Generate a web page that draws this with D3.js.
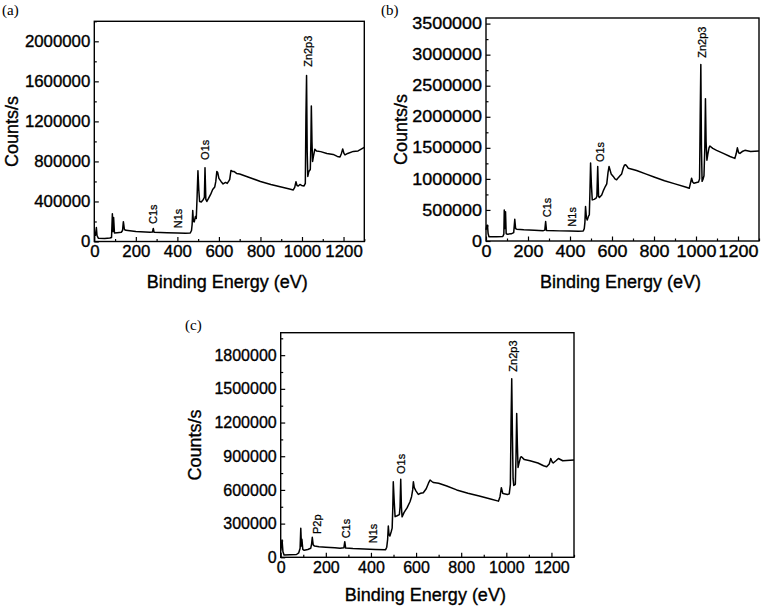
<!DOCTYPE html>
<html><head><meta charset="utf-8">
<script src="https://cdn.jsdelivr.net/npm/d3@7"></script>
<style>
body{margin:0;background:#fff}
svg text{font-family:"Liberation Sans",Arial,sans-serif;fill:#000}
</style>
</head><body>
<svg id="chart" width="761" height="608"></svg>
<script>
// ---------- data ----------
const energyA = [0,5,10,13,20,50,75,83,87,90,93,97,110,130,136,140,145,152,200,268,280,284,288,350,400,440,462,468,471,474,477,481,487,491,495,499,503,507,515,525,530,533,537,542,550,560,570,580,585,590,594,600,610,620,632,640,648,652,658,665,672,685,700,720,760,800,850,900,940,958,965,971,976,982,990,998,1010,1016,1019,1022,1025,1028,1033,1040,1043,1045,1048,1051,1055,1062,1070,1090,1120,1150,1170,1183,1190,1196,1202,1207,1220,1247,1270,1300];
const countsA = [50000,60000,140000,60000,32000,30000,35000,40000,278000,100000,240000,85000,88000,92000,110000,198000,120000,112000,100000,92000,95000,130000,92000,88000,85000,83000,85000,110000,170000,310000,200000,195000,250000,230000,450000,708000,520000,400000,395000,420000,440000,738000,420000,400000,430000,470000,520000,545000,600000,700000,690000,630000,600000,575000,590000,580000,605000,620000,710000,700000,700000,680000,675000,660000,630000,600000,570000,545000,525000,515000,540000,598000,560000,555000,570000,560000,555000,580000,1250000,1658000,900000,650000,700000,720000,1000000,1355000,1000000,800000,850000,922000,905000,898000,880000,870000,850000,845000,880000,925000,880000,865000,880000,900000,905000,940000];

const energyB = [0,4,7,10,14,20,50,80,85,87,90,93,96,100,120,132,137,141,146,180,230,273,280,284,288,350,400,440,463,468,471,474,478,482,488,492,495,498,502,506,515,524,528,532,536,540,551,560,568,575,581,586,590,596,606,614,622,630,638,646,654,660,665,672,678,700,717,760,800,850,900,950,968,975,979,984,990,1003,1012,1017,1020,1023,1026,1029,1034,1038,1042,1045,1048,1052,1056,1062,1066,1080,1098,1130,1162,1185,1191,1197,1203,1209,1220,1233,1260,1300];
const countsB = [180000,250000,255000,120000,70000,68000,70000,72000,110000,500000,200000,470000,120000,110000,115000,135000,350000,200000,190000,180000,172000,167000,175000,312000,170000,163000,160000,158000,161000,200000,300000,554000,380000,339000,400000,420000,800000,1254000,900000,662000,670000,689000,720000,1200000,720000,700000,740000,820000,877000,920000,1100000,1200000,1150000,1080000,1040000,1000000,985000,1020000,1050000,1080000,1180000,1225000,1227000,1200000,1170000,1150000,1135000,1080000,1030000,970000,920000,870000,850000,950000,1010000,950000,930000,942000,950000,1000000,2000000,2840000,1500000,960000,1000000,1050000,1500000,2290000,1600000,1300000,1390000,1500000,1530000,1490000,1460000,1410000,1360000,1330000,1400000,1500000,1420000,1410000,1440000,1460000,1440000,1450000];

const energyC = [0,3,6,10,15,40,70,80,86,89,92,94,98,104,120,133,137,140,144,150,170,200,240,263,280,284,288,320,370,420,465,470,474,477,480,484,490,494,497,499,503,507,516,526,529,532,535,538,547,560,573,580,585,588,592,600,610,620,632,645,655,662,670,677,700,736,780,830,880,930,965,972,978,984,990,1005,1013,1018,1021,1024,1027,1030,1033,1040,1043,1046,1049,1052,1056,1063,1067,1080,1105,1140,1165,1179,1190,1197,1203,1208,1220,1231,1250,1300];
const countsC = [60000,100000,154000,50000,20000,22000,25000,40000,80000,258000,100000,160000,70000,62000,70000,80000,120000,178000,110000,100000,95000,90000,84000,80000,84000,139000,82000,78000,74000,70000,68000,90000,160000,279000,200000,190000,230000,260000,450000,673000,500000,362000,370000,380000,450000,694000,450000,360000,400000,440000,495000,540000,600000,673000,620000,590000,560000,570000,575000,610000,660000,688000,675000,665000,660000,635000,600000,570000,545000,520000,500000,540000,620000,570000,565000,560000,565000,650000,1200000,1590000,1100000,700000,640000,650000,900000,1280000,1000000,800000,836000,890000,896000,870000,860000,840000,815000,807000,830000,880000,850000,840000,860000,880000,860000,866000];

const xTicks = [0,200,400,600,800,1000,1200];
const xMinorTicks = [100,300,500,700,900,1100,1300];
const yTicksA = [0,400000,800000,1200000,1600000,2000000];
const yMinorA = [200000,600000,1000000,1400000,1800000,2200000];
const yTicksB = [0,500000,1000000,1500000,2000000,2500000,3000000,3500000];
const yMinorB = [250000,750000,1250000,1750000,2250000,2750000,3250000];
const yTicksC = [0,300000,600000,900000,1200000,1500000,1800000];
const yMinorC = [150000,450000,750000,1050000,1350000,1650000,1950000];

const peakNamesA = ["C1s","N1s","O1s","Zn2p3"];
const peakEnergyA = [284,404,536,1030];
const peakCountsA = [175000,132000,815000,1745000];
const peakNamesB = ["C1s","N1s","O1s","Zn2p3"];
const peakEnergyB = [289,408,543,1027];
const peakCountsB = [383000,231000,1270000,2950000];
const peakNamesC = ["P2p","C1s","N1s","O1s","Zn2p3"];
const peakEnergyC = [160,292,410,536,1031];
const peakCountsC = [207000,169000,125000,742000,1653000];

const panelLabels = ["(a)","(b)","(c)"];
const xTitle = "Binding Energy (eV)";
const yTitle = "Counts/s";

// ---------- layout ----------
const panels = [
  {lab:panelLabels[0], E:energyA, C:countsA, yMax:2200000, yT:yTicksA, yM:yMinorA,
   pn:peakNamesA, pe:peakEnergyA, pc:peakCountsA,
   l:94.3, r:364.3, t:21.3, b:241.5, labX:2, labY:15, yTitX:12, xTitY:288, tickFs:16, stretch:1.05},
  {lab:panelLabels[1], E:energyB, C:countsB, yMax:3590000, yT:yTicksB, yM:yMinorB,
   pn:peakNamesB, pe:peakEnergyB, pc:peakCountsB,
   l:486, r:759, t:18, b:241, labX:381, labY:15, yTitX:401, xTitY:288, tickFs:16, stretch:1.12},
  {lab:panelLabels[2], E:energyC, C:countsC, yMax:2000000, yT:yTicksC, yM:yMinorC,
   pn:peakNamesC, pe:peakEnergyC, pc:peakCountsC,
   l:280.7, r:574, t:332.7, b:557.3, labX:185, labY:330, yTitX:195, xTitY:601, tickFs:16, stretch:1.0}
];

const svg = d3.select("#chart");

function styleTickText(sel, p){
  sel.attr("font-size",p.tickFs)
     .style("font-family","'Liberation Sans',Arial,sans-serif")
     .attr("stroke","#000").attr("stroke-width",0.35)
     .each(function(){
        const len = this.getComputedTextLength();
        if (p.stretch !== 1) {
          d3.select(this).attr("textLength", len*p.stretch).attr("lengthAdjust","spacingAndGlyphs");
        }
     });
}

panels.forEach(p => {
  const x = d3.scaleLinear().domain([0,1300]).range([p.l,p.r]);
  const y = d3.scaleLinear().domain([0,p.yMax]).range([p.b,p.t]);
  const g = svg.append("g");

  // minor ticks
  g.append("g").attr("transform",`translate(0,${p.b})`)
    .call(d3.axisBottom(x).tickValues(xMinorTicks).tickSizeInner(-2.5).tickSizeOuter(0).tickFormat(""))
    .call(s=>s.select(".domain").remove());
  g.append("g").attr("transform",`translate(${p.l},0)`)
    .call(d3.axisLeft(y).tickValues(p.yM.filter(v=>v<=p.yMax)).tickSizeInner(-2.5).tickSizeOuter(0).tickFormat(""))
    .call(s=>s.select(".domain").remove());

  // major ticks
  const xa = g.append("g").attr("transform",`translate(0,${p.b})`)
    .call(d3.axisBottom(x).tickValues(xTicks).tickSizeInner(-4.5).tickSizeOuter(0).tickPadding(4.5).tickFormat(d3.format("d")));
  xa.select(".domain").remove();
  styleTickText(xa.selectAll("text"), p);
  const ya = g.append("g").attr("transform",`translate(${p.l},0)`)
    .call(d3.axisLeft(y).tickValues(p.yT).tickSizeInner(-4.5).tickSizeOuter(0).tickPadding(4).tickFormat(d3.format("d")));
  ya.select(".domain").remove();
  styleTickText(ya.selectAll("text"), p);
  g.selectAll(".tick line").attr("stroke","#000").attr("stroke-width",1.2);

  // frame
  g.append("rect").attr("x",p.l).attr("y",p.t).attr("width",p.r-p.l).attr("height",p.b-p.t)
    .attr("fill","none").attr("stroke","#000").attr("stroke-width",1.4);

  // spectrum
  const pts = p.E.map((e,i)=>[e,p.C[i]]);
  g.append("path").datum(pts)
    .attr("d", d3.line().x(d=>x(d[0])).y(d=>y(d[1])))
    .attr("fill","none").attr("stroke","#000").attr("stroke-width",1.5).attr("stroke-linejoin","round");

  // peak labels
  p.pn.forEach((n,i)=>{
    g.append("text").attr("transform",`translate(${x(p.pe[i])},${y(p.pc[i])}) rotate(-90)`)
      .attr("dy","0.35em").attr("text-anchor","start").attr("font-size",11)
      .attr("stroke","#000").attr("stroke-width",0.25).text(n);
  });

  // titles
  g.append("text").attr("x",(p.l+p.r)/2 - 2).attr("y",p.xTitY).attr("text-anchor","middle")
    .attr("font-size",18).attr("stroke","#000").attr("stroke-width",0.35).text(xTitle);
  g.append("text").attr("transform",`translate(${p.yTitX},${(p.t+p.b)/2}) rotate(-90)`)
    .attr("dy","0.35em").attr("text-anchor","middle").attr("font-size",18)
    .attr("stroke","#000").attr("stroke-width",0.35).text(yTitle);
  g.append("text").attr("x",p.labX).attr("y",p.labY).attr("font-size",15)
    .style("font-family","'Liberation Serif','Times New Roman',serif").text(p.lab);
});
</script>
</body></html>
